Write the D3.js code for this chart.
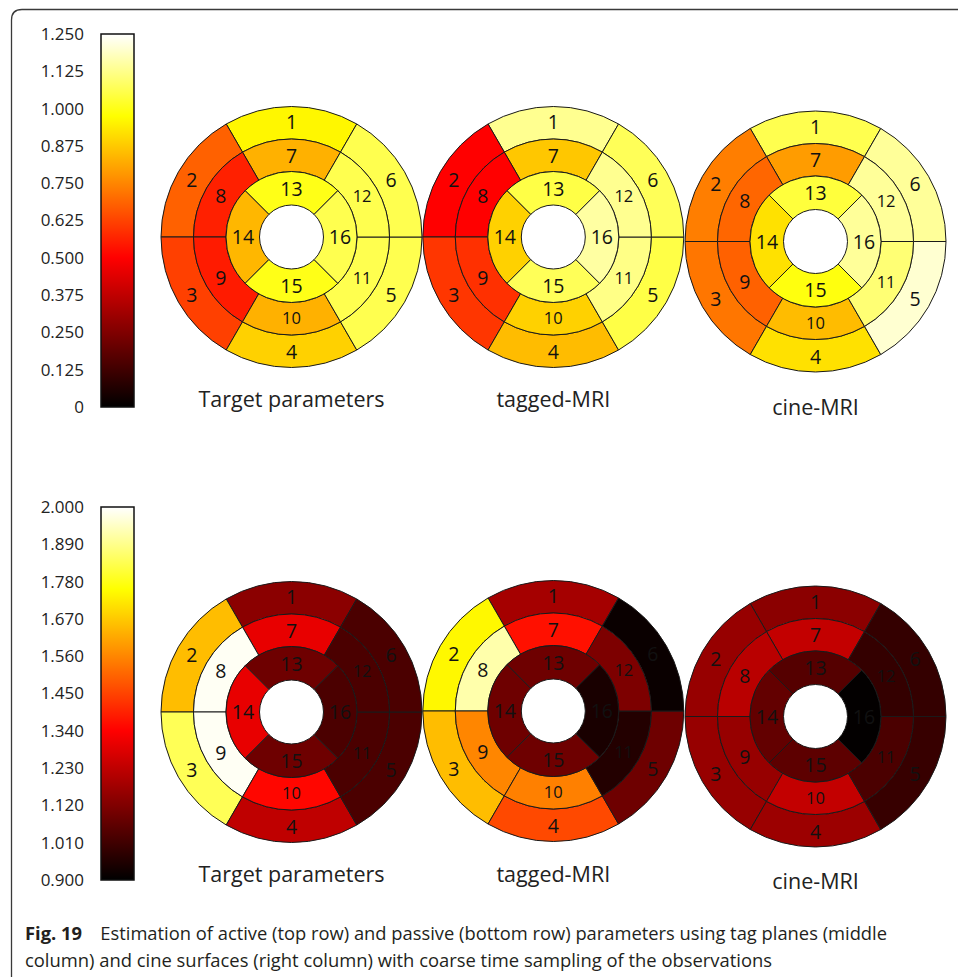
<!DOCTYPE html>
<html>
<head>
<meta charset="utf-8">
<script src="https://cdn.jsdelivr.net/npm/d3@7"></script>
<style>
  html, body { margin: 0; padding: 0; background: #fff; }
  svg { display: block; }
</style>
</head>
<body>
<svg id="chart" width="958" height="977"></svg>
<script>
// ---------------- DATA ----------------
const segments = [1,2,3,4,5,6,7,8,9,10,11,12,13,14,15,16];
const panelTitles = ["Target parameters", "tagged-MRI", "cine-MRI"];

// Active parameters (top row), segments 1..16
const activeTarget = [0.96,0.68,0.62,0.89,1.06,1.06,0.83,0.56,0.55,0.83,1.06,1.06,1.00,0.84,1.00,1.06];
const activeTagged = [1.13,0.50,0.60,0.85,1.05,1.07,0.87,0.50,0.59,0.89,1.12,1.13,1.05,0.89,1.07,1.15];
const activeCine   = [1.06,0.735,0.72,0.92,1.20,1.14,0.79,0.69,0.68,0.85,1.10,1.14,1.04,0.92,0.99,1.14];

// Passive parameters (bottom row), segments 1..16
const passiveTarget = [1.14,1.65,1.84,1.23,1.03,1.03,1.30,1.99,1.99,1.35,1.03,1.03,1.09,1.30,1.09,1.03];
const passiveTagged = [1.185,1.746,1.65,1.46,1.09,0.917,1.366,1.92,1.56,1.55,0.96,1.116,1.09,1.09,1.09,0.943];
const passiveCine   = [1.14,1.16,1.16,1.17,0.995,0.99,1.236,1.22,1.16,1.236,1.03,0.99,1.047,1.07,1.06,0.905];

const activeTicks  = ["0","0.125","0.250","0.375","0.500","0.625","0.750","0.875","1.000","1.125","1.250"];
const passiveTicks = ["0.900","1.010","1.120","1.230","1.340","1.450","1.560","1.670","1.780","1.890","2.000"];
const activeDomain  = [0, 1.25];
const passiveDomain = [0.9, 2.0];

const captionBold = "Fig. 19";
const captionLine1 = "Estimation of active (top row) and passive (bottom row) parameters using tag planes (middle";
const captionLine2 = "column) and cine surfaces (right column) with coarse time sampling of the observations";

// ---------------- DRAW ----------------
const svg = d3.select("#chart");

// frame
svg.append("path")
  .attr("d", "M11.5,977 L11.5,20 Q11.5,9.5 22,9.5 L958,9.5")
  .attr("fill", "none").attr("stroke", "#3a3a3a").attr("stroke-width", 1.3);

// "hot" colormap stops
const hotStops = [[0, "#000000"], [0.4, "#ff0000"], [0.78, "#ffff00"], [1, "#ffffff"]];
function makeColor(domain) {
  const [a, b] = domain;
  return d3.scaleLinear()
    .domain(hotStops.map(s => a + s[0] * (b - a)))
    .range(hotStops.map(s => s[1]))
    .interpolate(d3.interpolateRgb)
    .clamp(true);
}

const defs = svg.append("defs");
function colorbar(id, domain, ticks, top, bottom) {
  const color = makeColor(domain);
  const grad = defs.append("linearGradient").attr("id", id)
    .attr("x1", 0).attr("y1", 1).attr("x2", 0).attr("y2", 0);
  d3.range(0, 1.0001, 0.02).forEach(t => {
    grad.append("stop").attr("offset", t)
      .attr("stop-color", color(domain[0] + t * (domain[1] - domain[0])));
  });
  const x0 = 101, w = 33;
  svg.append("rect").attr("x", x0).attr("y", top).attr("width", w).attr("height", bottom - top)
    .attr("fill", `url(#${id})`).attr("stroke", "#111").attr("stroke-width", 1.5);
  const y = d3.scaleLinear().domain([0, ticks.length - 1]).range([bottom, top]);
  svg.append("g").selectAll("text").data(ticks).join("text")
    .attr("x", 84).attr("y", (d, i) => y(i)).attr("dy", "0.35em")
    .attr("text-anchor", "end")
    .attr("font-family", "'Open Sans', 'Noto Sans', sans-serif")
    .attr("font-size", 17).attr("fill", "#222")
    .text(d => d);
}
colorbar("gradA", activeDomain, activeTicks, 34, 407);
colorbar("gradP", passiveDomain, passiveTicks, 507, 880);

// bullseye
const R = [32, 65.5, 98, 130.5];
const deg = Math.PI / 180;
function segGeom(s) {
  if (s <= 6) return { r0: R[2], r1: R[3], c: -(s - 1) * 60, span: 60, lr: 115 };
  if (s <= 12) return { r0: R[1], r1: R[2], c: -(s - 7) * 60, span: 60, lr: 81.5 };
  return { r0: R[0], r1: R[1], c: -(s - 13) * 90, span: 90, lr: 48.5 };
}
const arc = d3.arc();
function fontSize(s) {
  if (s >= 10 && s <= 12) return 16.5;
  return 19.5;
}
function bullseye(cx, cy, values, domain, title, titleY) {
  const color = makeColor(domain);
  const g = svg.append("g").attr("transform", `translate(${cx},${cy})`);
  g.selectAll("path").data(segments).join("path")
    .attr("d", s => {
      const q = segGeom(s);
      return arc({ innerRadius: q.r0, outerRadius: q.r1,
        startAngle: (q.c - q.span / 2) * deg, endAngle: (q.c + q.span / 2) * deg });
    })
    .attr("fill", (s, i) => color(values[i]))
    .attr("stroke", "#1a1a1a").attr("stroke-width", 1);
  g.selectAll("text").data(segments).join("text")
    .attr("x", s => { const q = segGeom(s); return q.lr * Math.sin(q.c * deg); })
    .attr("y", s => { const q = segGeom(s); return -q.lr * Math.cos(q.c * deg); })
    .attr("dy", "0.36em").attr("text-anchor", "middle")
    .attr("font-family", "'Open Sans', 'Noto Sans', sans-serif")
    .attr("font-size", s => fontSize(s)).attr("fill", "#111")
    .text(s => s);
  svg.append("text").attr("x", cx).attr("y", titleY)
    .attr("text-anchor", "middle")
    .attr("font-family", "'Open Sans', 'Noto Sans', sans-serif")
    .attr("font-size", 21.5).attr("fill", "#222")
    .text(title);
}
const cxs = [291.5, 553.3, 813.5];
const topCy = [237, 237, 241.5];
const botCy = [712, 711, 716.5];
const topTitleY = [407, 407, 415];
const botTitleY = [882, 882, 889];
[activeTarget, activeTagged, activeCine].forEach((v, i) =>
  bullseye(i === 2 ? 815.5 : cxs[i], topCy[i], v, activeDomain, panelTitles[i], topTitleY[i]));
[passiveTarget, passiveTagged, passiveCine].forEach((v, i) =>
  bullseye(i === 2 ? 815.5 : cxs[i], botCy[i], v, passiveDomain, panelTitles[i], botTitleY[i]));

// caption
const cap1 = svg.append("text").attr("x", 25).attr("y", 940)
  .attr("font-family", "'Liberation Sans Narrow', 'Open Sans', sans-serif")
  .attr("font-size", 18.5).attr("fill", "#231f20")
  .attr("textLength", 862).attr("lengthAdjust", "spacingAndGlyphs");
cap1.append("tspan").attr("font-weight", "bold").text(captionBold);
cap1.append("tspan").text("\u2003" + captionLine1);
svg.append("text").attr("x", 25).attr("y", 967)
  .attr("font-family", "'Liberation Sans Narrow', 'Open Sans', sans-serif")
  .attr("font-size", 18.5).attr("fill", "#231f20")
  .attr("textLength", 747).attr("lengthAdjust", "spacingAndGlyphs")
  .text(captionLine2);
</script>
</body>
</html>
